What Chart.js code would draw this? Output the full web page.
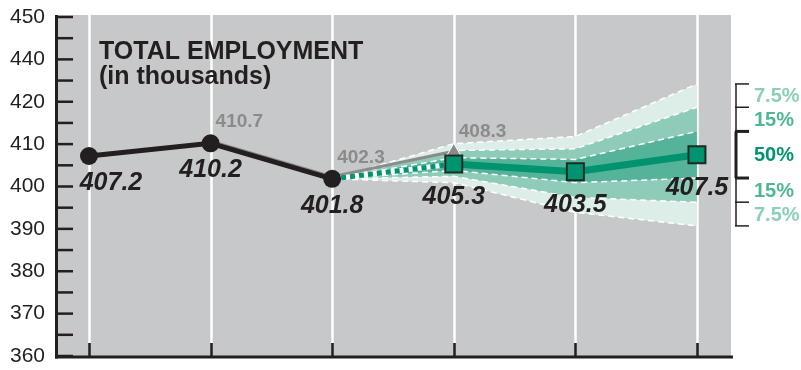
<!DOCTYPE html>
<html><head><meta charset="utf-8">
<script src="https://cdn.jsdelivr.net/npm/chart.js@4/dist/chart.umd.min.js"></script>
<style>html,body{margin:0;padding:0;background:#fff}#wrap{width:801px;height:370px;position:relative}</style>
</head><body><div id="wrap"><canvas id="c" width="801" height="370"></canvas></div>
<script>
// ---- data ----
const periods = [0, 1, 2, 3, 4, 5];
const yTickLabels = ['360', '370', '380', '390', '400', '410', '420', '440', '450'];
const actual = [407.2, 410.2, 401.8];          // periods 0-2
const priorForecast = [410.7, 402.3, 408.3];   // periods 1-3
const forecast = [405.3, 403.5, 407.5];        // periods 3-5
const band75Top = [410.1, 411.8, 424.2];
const band15Top = [408.5, 408.9, 418.7];
const band50Top = [406.8, 406.4, 413.0];
const band50Bottom = [403.8, 400.9, 402.0];
const band15Bottom = [402.4, 397.4, 396.3];
const band75Bottom = [400.9, 393.9, 390.7];
const legendLabels = ['7.5%', '15%', '50%', '15%', '7.5%'];
const titleLines = ['TOTAL EMPLOYMENT', '(in thousands)'];

// ---- styles ----
const FONT = '"Liberation Sans", Arial, Helvetica, sans-serif';
const INK = '#231f20';
const GREY = '#8b8b8b';
const GREEN = '#00936f';
const C_LIGHT = '#ddeee8', C_MID = '#8ecbb8', C_DARK = '#54b398';
const legendColors = ['#8ccfb8', '#4fb595', GREEN, '#4fb595', '#8ccfb8'];

const startIdx = actual.length - 1;
const pts = (arr, start) => arr.map((v, i) => ({ x: periods[start + i], y: v }));
const fanPts = arr => [{ x: periods[startIdx], y: actual[startIdx] }].concat(pts(arr, startIdx + 1));

function bandDs(arr, bg, fill, order) {
  return {
    data: fanPts(arr), borderColor: '#ffffff', borderWidth: 1.5, borderDash: [6, 4],
    pointRadius: 0, fill: fill, backgroundColor: bg, order: order, tension: 0
  };
}

const datasets = [
  bandDs(band75Top, C_LIGHT, '+1', 20),
  bandDs(band15Top, C_MID, '+1', 19),
  bandDs(band50Top, C_DARK, '+1', 18),
  bandDs(band50Bottom, C_MID, '+1', 17),
  bandDs(band15Bottom, C_LIGHT, '+1', 16),
  bandDs(band75Bottom, 'transparent', false, 15),
  { // prior forecast (grey)
    data: pts(priorForecast, 1), borderColor: GREY, borderWidth: 3,
    pointStyle: 'triangle', pointRadius: 8, pointBackgroundColor: GREY,
    pointBorderColor: '#ffffff', pointBorderWidth: 1, order: 8, fill: false
  },
  { // white underlay for dashed link
    data: [{ x: periods[startIdx], y: actual[startIdx] }, { x: periods[startIdx + 1], y: forecast[0] }],
    borderColor: '#ffffff', borderWidth: 5, pointRadius: 0, order: 7, fill: false
  },
  { // forecast (green)
    data: fanPts(forecast), borderColor: GREEN, borderWidth: 7,
    segment: {
      borderDash: ctx => ctx.p0DataIndex === 0 ? [5, 4] : undefined,
      borderWidth: ctx => ctx.p0DataIndex === 0 ? 5 : 7
    },
    pointStyle: 'rect', pointRadius: ctx => ctx.dataIndex === 0 ? 0 : 12,
    pointBackgroundColor: GREEN, pointBorderColor: '#1e2b25', pointBorderWidth: 2,
    order: 5, fill: false
  },
  { // actual (black)
    data: pts(actual, 0), borderColor: INK, borderWidth: 5,
    pointRadius: 9, pointBackgroundColor: INK, pointBorderColor: INK, pointBorderWidth: 0,
    order: 4, fill: false
  }
];

const decor = {
  id: 'decor',
  beforeDraw(chart) {
    const { ctx, chartArea: a } = chart;
    ctx.save();
    ctx.fillStyle = '#c7c8ca';
    ctx.fillRect(a.left, a.top - 2, a.right - a.left, a.bottom - a.top + 2);
    ctx.restore();
  },
  beforeDatasetsDraw(chart) {
    const { ctx, chartArea: a, scales: { x, y } } = chart;
    ctx.save();
    periods.forEach(p => {
      const px = Math.round(x.getPixelForValue(p)) + 0.5;
      ctx.strokeStyle = '#ffffff'; ctx.lineWidth = 2.5;
      ctx.beginPath(); ctx.moveTo(px, a.top - 2); ctx.lineTo(px, a.bottom - 13); ctx.stroke();
      ctx.strokeStyle = INK; ctx.lineWidth = 2.5;
      ctx.beginPath(); ctx.moveTo(px, a.bottom - 13); ctx.lineTo(px, a.bottom); ctx.stroke();
    });
    ctx.strokeStyle = INK; ctx.lineWidth = 2.5;
    for (let v = y.min; v <= y.max; v += 5) {
      const py = y.getPixelForValue(v);
      ctx.beginPath(); ctx.moveTo(a.left - 2, py); ctx.lineTo(a.left + 16, py); ctx.stroke();
    }
    ctx.lineWidth = 3;
    ctx.beginPath(); ctx.moveTo(a.left - 0.5, a.top - 2); ctx.lineTo(a.left - 0.5, a.bottom + 2.5); ctx.stroke();
    ctx.beginPath(); ctx.moveTo(a.left - 2, a.bottom + 1); ctx.lineTo(a.right + 2, a.bottom + 1); ctx.stroke();
    ctx.restore();
  },
  afterDatasetsDraw(chart) {
    const { ctx, chartArea: a, scales: { x, y } } = chart;
    ctx.save();
    ctx.fillStyle = INK; ctx.textAlign = 'left'; ctx.textBaseline = 'alphabetic';
    ctx.font = 'bold 25px ' + FONT;
    ctx.fillText(titleLines[0], a.left + 42, 59);
    ctx.fillText(titleLines[1], a.left + 42, 84);
    ctx.font = 'italic bold 25px ' + FONT; ctx.textBaseline = 'middle'; ctx.textAlign = 'center';
    const actualShift = [22, 0, 0];
    actual.forEach((v, i) => {
      ctx.fillText(v.toFixed(1), x.getPixelForValue(periods[i]) + actualShift[i], y.getPixelForValue(v) + 27);
    });
    forecast.forEach((v, i) => {
      ctx.fillText(v.toFixed(1), x.getPixelForValue(periods[startIdx + 1 + i]), y.getPixelForValue(v) + 33);
    });
    ctx.font = 'bold 19px ' + FONT; ctx.fillStyle = GREY; ctx.textAlign = 'left'; ctx.textBaseline = 'alphabetic';
    priorForecast.forEach((v, i) => {
      ctx.fillText(v.toFixed(1), x.getPixelForValue(periods[1 + i]) + 5, y.getPixelForValue(v) - 14);
    });
    const last = band75Top.length - 1;
    const bounds = [band75Top, band15Top, band50Top, band50Bottom, band15Bottom, band75Bottom].map(b => y.getPixelForValue(b[last]));
    const bx = a.right + 5;
    ctx.strokeStyle = INK;
    for (let k = 0; k < 5; k++) {
      ctx.lineWidth = k === 2 ? 3 : 1.5;
      ctx.beginPath(); ctx.moveTo(bx, bounds[k]); ctx.lineTo(bx, bounds[k + 1]); ctx.stroke();
    }
    bounds.forEach((by, k) => {
      ctx.lineWidth = (k === 2 || k === 3) ? 3 : 1.5;
      ctx.beginPath(); ctx.moveTo(bx - 1, by); ctx.lineTo(bx + 13, by); ctx.stroke();
    });
    ctx.font = 'bold 20px ' + FONT; ctx.textBaseline = 'middle'; ctx.textAlign = 'left';
    legendLabels.forEach((t, k) => {
      ctx.fillStyle = legendColors[k];
      ctx.fillText(t, bx + 18, (bounds[k] + bounds[k + 1]) / 2 + 1);
    });
    ctx.restore();
  }
};

new Chart(document.getElementById('c'), {
  type: 'line',
  data: { datasets },
  options: {
    responsive: false, animation: false, devicePixelRatio: 1,
    layout: { padding: { left: 0, right: 70, top: 17, bottom: 13 } },
    plugins: { legend: { display: false }, tooltip: { enabled: false }, title: { display: false } },
    scales: {
      x: { type: 'linear', min: -0.263, max: 5.28, display: false },
      y: {
        type: 'linear', min: 360, max: 440,
        afterFit: s => { s.width = 57; s.paddingTop = 0; s.paddingBottom = 0; },
        grid: { display: false, drawTicks: false },
        border: { display: false },
        ticks: {
          stepSize: 5, autoSkip: false, padding: 12, color: INK,
          font: { family: FONT, size: 21 },
          callback: v => (v % 10 === 0 ? yTickLabels[(v - 360) / 10] : '')
        }
      }
    }
  },
  plugins: [decor]
});
</script>
</body></html>
